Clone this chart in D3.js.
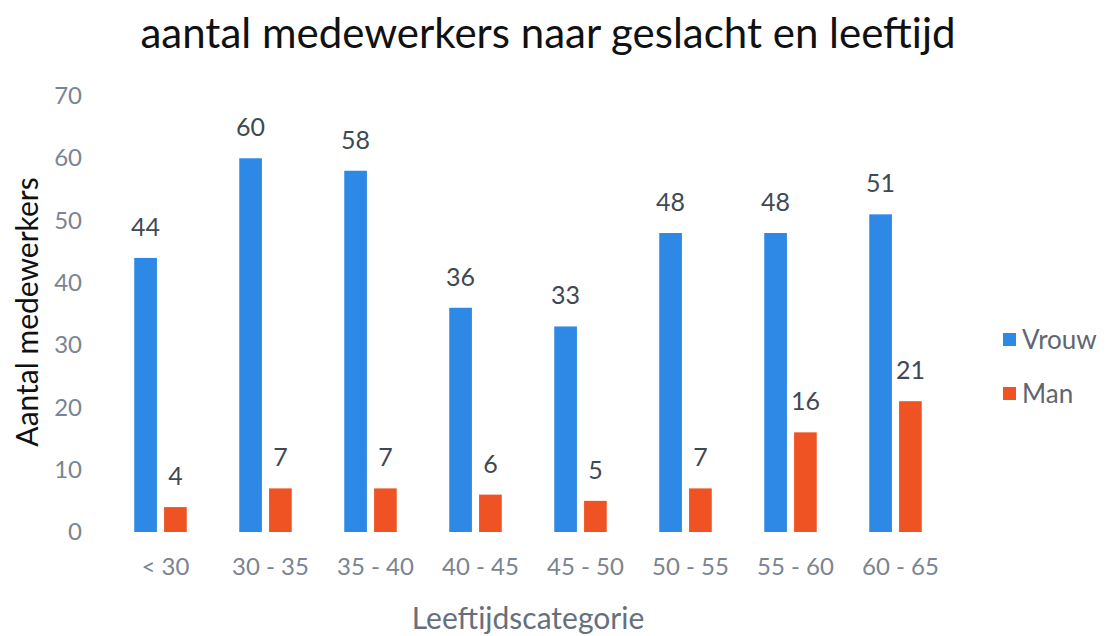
<!DOCTYPE html>
<html>
<head>
<meta charset="utf-8">
<script src="https://cdnjs.cloudflare.com/ajax/libs/d3/7.8.5/d3.min.js"></script>
<style>
    body { margin: 0; background: #fff; }
    svg { font-family: Lato, "Open Sans", sans-serif; }
</style>
</head>
<body>
<div id="chart"></div>
<script>
// data
var categories = ["< 30", "30 - 35", "35 - 40", "40 - 45", "45 - 50", "50 - 55", "55 - 60", "60 - 65"];
var series = ["Vrouw", "Man"];
var vrouw = [44, 60, 58, 36, 33, 48, 48, 51];
var man = [4, 7, 7, 6, 5, 7, 16, 21];
var yTicks = [0, 10, 20, 30, 40, 50, 60, 70];
var colors = ["#2d89e5", "#ef5223"];

var svgWidth = 1107, svgHeight = 636;
var margin = {top: 96, right: 158, bottom: 104, left: 108};
var width = svgWidth - margin.left - margin.right;
var height = svgHeight - margin.top - margin.bottom;

var svg = d3.select("#chart").append("svg")
    .attr("width", svgWidth)
    .attr("height", svgHeight);

var g = svg.append("g")
    .attr("transform", "translate(" + margin.left + "," + margin.top + ")");

var x0 = d3.scaleBand().domain(categories).range([0, 840]).paddingInner(0.5).paddingOuter(0.25);
var x1 = d3.scaleBand().domain(series).range([0, x0.bandwidth()]).paddingInner(0.24);
var y = d3.scaleLinear().domain([0, 70]).range([height, 0]);

// title
svg.append("text")
    .attr("x", 548)
    .attr("y", 48)
    .attr("text-anchor", "middle")
    .attr("font-size", 42)
    .attr("fill", "#111")
    .text("aantal medewerkers naar geslacht en leeftijd");

// y axis (labels only)
var yAxis = g.append("g")
    .call(d3.axisLeft(y).tickValues(yTicks).tickSize(0).tickPadding(26));
yAxis.select(".domain").remove();
yAxis.selectAll("text")
    .attr("font-size", 24)
    .attr("font-family", "Lato, 'Open Sans', sans-serif")
    .attr("fill", "#7b8491");

// x axis (labels only)
var xAxis = g.append("g")
    .attr("transform", "translate(0," + height + ")")
    .call(d3.axisBottom(x0).tickSize(0).tickPadding(26));
xAxis.select(".domain").remove();
xAxis.selectAll("text")
    .attr("font-size", 24)
    .attr("font-family", "Lato, 'Open Sans', sans-serif")
    .attr("fill", "#7b8491")
    .attr("dy", "0.71em")
    .attr("dx", 5);

// axis titles
svg.append("text")
    .attr("transform", "translate(38,312) rotate(-90)")
    .attr("text-anchor", "middle")
    .attr("font-size", 30)
    .attr("fill", "#111")
    .text("Aantal medewerkers");

svg.append("text")
    .attr("x", 528)
    .attr("y", 629)
    .attr("text-anchor", "middle")
    .attr("font-size", 30)
    .attr("fill", "#66707d")
    .text("Leeftijdscategorie");

// bars
var rows = categories.map(function (c, i) {
    return [{cat: c, key: "Vrouw", value: vrouw[i]}, {cat: c, key: "Man", value: man[i]}];
});

var groups = g.selectAll(".group")
    .data(rows)
    .enter()
    .append("g")
    .attr("class", "group")
    .attr("transform", function (d) {
        return "translate(" + x0(d[0].cat) + ",0)";
    });

groups.selectAll("rect")
    .data(function (d) { return d; })
    .enter()
    .append("rect")
    .attr("x", function (d) { return x1(d.key); })
    .attr("y", function (d) { return y(d.value); })
    .attr("width", x1.bandwidth())
    .attr("height", function (d) { return height - y(d.value); })
    .attr("fill", function (d, i) { return colors[i]; });

groups.selectAll(".lbl")
    .data(function (d) { return d; })
    .enter()
    .append("text")
    .attr("class", "lbl")
    .attr("x", function (d) { return x1(d.key) + x1.bandwidth() / 2; })
    .attr("y", function (d) { return y(d.value) - 22; })
    .attr("text-anchor", "middle")
    .attr("font-size", 25)
    .attr("fill", "#3f4954")
    .text(function (d) { return d.value; });

// legend
var legend = svg.append("g")
    .attr("transform", "translate(1003,333)");

legend.selectAll("rect")
    .data(series)
    .enter()
    .append("rect")
    .attr("x", 0)
    .attr("y", function (d, i) { return i * 54; })
    .attr("width", 13)
    .attr("height", 13)
    .attr("fill", function (d, i) { return colors[i]; });

legend.selectAll("text")
    .data(series)
    .enter()
    .append("text")
    .attr("x", 19)
    .attr("y", function (d, i) { return i * 54 + 16; })
    .attr("font-size", 26)
    .attr("fill", "#5e6673")
    .text(function (d) { return d; });
</script>
</body>
</html>
